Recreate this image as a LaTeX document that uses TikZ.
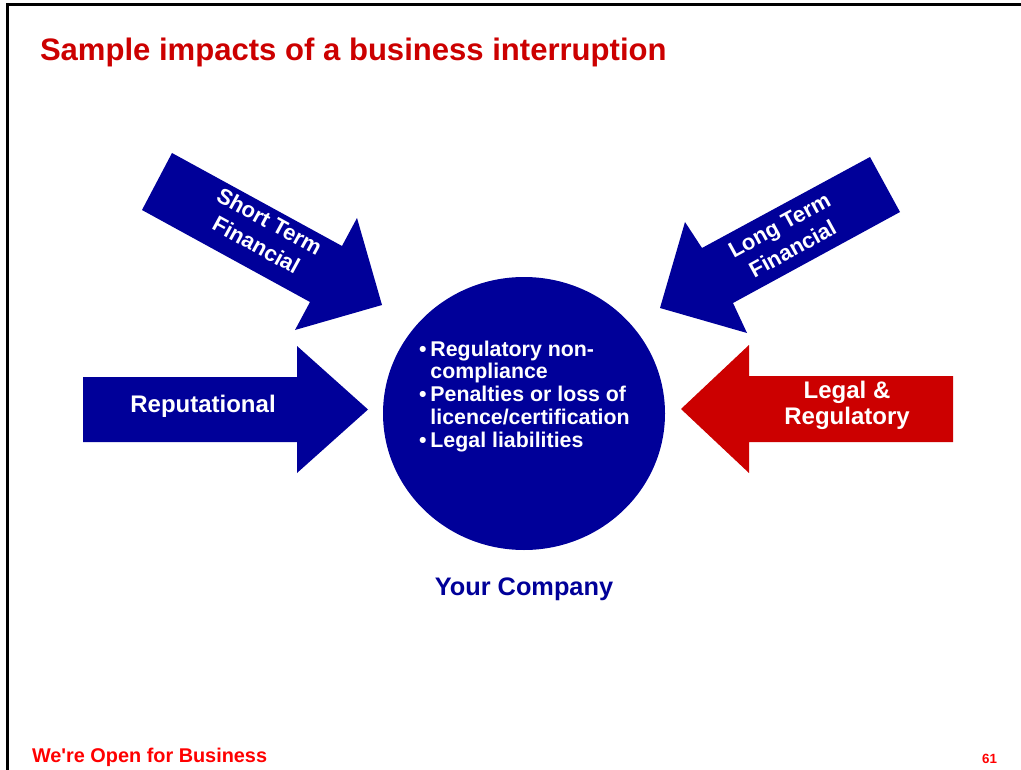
\documentclass[tikz,border=0pt]{standalone}
\usepackage{fontspec}
\setmainfont{Liberation Sans}
\definecolor{navy}{RGB}{0,0,153}
\definecolor{arrowred}{RGB}{204,0,0}
\definecolor{brightred}{RGB}{255,0,0}
\begin{document}
\begin{tikzpicture}[x=0.75pt,y=-0.75pt,
  every node/.style={inner sep=0pt, outer sep=0pt},
  bluearrow/.style={fill=navy, draw=none},
  redarrow/.style={fill=arrowred, draw=none},
  arrowtext/.style={text=white, align=center, font=\fontsize{18pt}{19.5pt}\selectfont\bfseries},
  diagtext/.style={text=white, align=center, font=\fontsize{16.5pt}{20.5pt}\selectfont\bfseries},
  circletext/.style={text=white, font=\fontsize{16pt}{17.2pt}\selectfont\bfseries},
  titletext/.style={text=arrowred, font=\fontsize{23.3pt}{26pt}\selectfont\bfseries},
  foottext/.style={text=brightred, font=\fontsize{14.9pt}{16pt}\selectfont\bfseries\addfontfeatures{Ligatures=TeXOff}}]
\useasboundingbox (0,0) rectangle (1021,770);
\fill[white] (0,0) rectangle (1021,770);
% frame
\draw[line width=2.25pt, black] (7.5,770) -- (7.5,4.7) -- (1021,4.7);
% title
\node[titletext, anchor=base west] (title) at (40,61) {Sample impacts of a business interruption};
% central circle
\fill[navy] (524,413.5) ellipse [x radius=141, y radius=136.5];
\coordinate (company) at (524,413.5);
\node[circletext, anchor=base west] (bullets) at (419,356)
  {\begin{tabular}[t]{@{}l@{\hspace{3pt}}l@{}}
   \textbullet & Regulatory non-\\
               & compliance\\
   \textbullet & Penalties or loss of\\
               & licence/certification\\
   \textbullet & Legal liabilities
   \end{tabular}};
\node[anchor=base, text=navy, font=\fontsize{19pt}{21pt}\selectfont\bfseries] (yourco) at (524,595) {Your Company};
% Reputational arrow
\fill[bluearrow] (83,377) -- (297,377) -- (297,346) -- (368,409.5) -- (297,473) -- (297,442) -- (83,442) -- cycle;
\node[arrowtext, anchor=base] (rep) at (203,412) {Reputational};
% Legal & Regulatory arrow
\fill[redarrow] (953,376) -- (749,376) -- (749,345) -- (681,409) -- (749,473) -- (749,442) -- (953,442) -- cycle;
\node[arrowtext] (legal) at (847,405) {Legal \&\\Regulatory};
% Short Term Financial arrow
\fill[bluearrow] (172,153) -- (342,246) -- (357,218) -- (382,305) -- (295,330) -- (310,302) -- (142,210) -- cycle;
\node[diagtext, rotate=-28.7] (short) at (263,233) {Short Term\\Financial};
% Long Term Financial arrow
\fill[bluearrow] (870,157) -- (702,248) -- (685,222) -- (660,308) -- (747,333) -- (733,303) -- (900,212) -- cycle;
\node[diagtext, rotate=28.7] (long) at (786,237) {Long Term\\Financial};
% footer
\node[foottext, anchor=base west] (footer) at (32,762.5) {We're Open for Business};
\node[anchor=base east, text=brightred, font=\fontsize{10pt}{12pt}\selectfont\bfseries] (page) at (997,763) {61};
\end{tikzpicture}
\end{document}
